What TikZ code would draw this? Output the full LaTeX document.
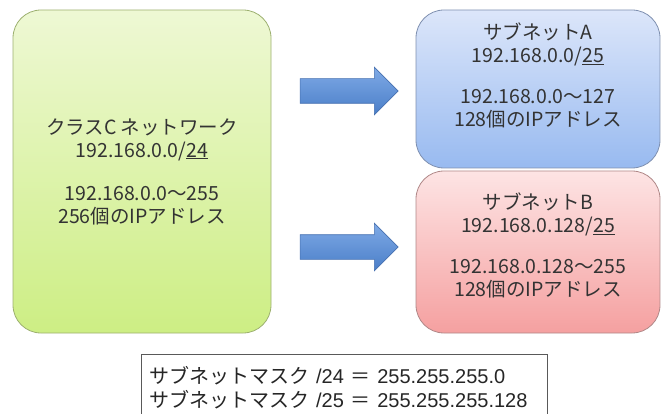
\documentclass[tikz,border=0pt]{standalone}
\usepackage{fontspec}
\setmainfont{Noto Sans CJK JP}
\newfontfamily\latinfont{Liberation Sans}
\usetikzlibrary{arrows.meta, positioning, shapes.arrows}
\definecolor{netText}{HTML}{333333}
\definecolor{netGreenTop}{HTML}{EEF8D4}
\definecolor{netGreenBot}{HTML}{CDEE84}
\definecolor{netGreenLine}{HTML}{9DB070}
\definecolor{netBlueTop}{HTML}{DCE6FA}
\definecolor{netBlueBot}{HTML}{98BAF0}
\definecolor{netBlueLine}{HTML}{7F90B0}
\definecolor{netRedTop}{HTML}{FDE4E4}
\definecolor{netRedBot}{HTML}{F5A0A0}
\definecolor{netRedLine}{HTML}{B08888}
\definecolor{arrTop}{HTML}{7FAAE6}
\definecolor{arrBot}{HTML}{4A7EC8}
\definecolor{arrLine}{HTML}{4670B0}

\begin{document}
\begin{tikzpicture}[x=1pt, y=-1pt,
    netbox/.style={rectangle, rounded corners=28pt, line width=0.8pt,
      align=center, font=\fontsize{19.5}{23}\selectfont, text=netText},
    subarrow/.style={single arrow, draw=arrLine, line width=0.6pt,
      top color=arrTop, bottom color=arrBot, minimum height=98pt,
      minimum width=47pt, single arrow head extend=11.5pt, inner xsep=0pt,
      inner ysep=12pt, shape border rotate=0},
    maskbox/.style={rectangle, draw=black!65, line width=1pt, fill=white,
      align=left, anchor=north west, text width=390pt, minimum height=66pt,
      inner xsep=8pt, font=\fontsize{20}{24}\selectfont, text=black!85}]
    \useasboundingbox (0,0) rectangle (661,414);
    % class C network
    \node[netbox, draw=netGreenLine, top color=netGreenTop, bottom color=netGreenBot,
      minimum width=258pt, minimum height=323pt] (classC) at (142,171.5)
      {クラスC ネットワーク\\192.168.0.0/\underline{24}\\[20pt]192.168.0.0～255\\256個のIPアドレス};
    % subnets
    \node[netbox, draw=netBlueLine, top color=netBlueTop, bottom color=netBlueBot,
      minimum width=244pt, minimum height=158pt] (subA) at (538,89)
      {サブネットA\\192.168.0.0/\underline{25}\\[18pt]192.168.0.0～127\\128個のIPアドレス\\[6pt]\mbox{}};
    \node[netbox, draw=netRedLine, top color=netRedTop, bottom color=netRedBot,
      minimum width=244pt, minimum height=162pt] (subB) at (538,252)
      {サブネットB\\192.168.0.128/\underline{25}\\[18pt]192.168.0.128～255\\128個のIPアドレス\\[-9pt]\mbox{}};
    % arrows
    \node[subarrow] (arrA) at (343,91) {};
    \node[subarrow] (arrB) at (343,247) {};
    % masks
    \node[maskbox] (mask) at (141,354)
      {サブネットマスク {\latinfont /24} ＝ {\latinfont 255.255.255.0}\\
       サブネットマスク {\latinfont /25} ＝ {\latinfont 255.255.255.128}};
\end{tikzpicture}
\end{document}
